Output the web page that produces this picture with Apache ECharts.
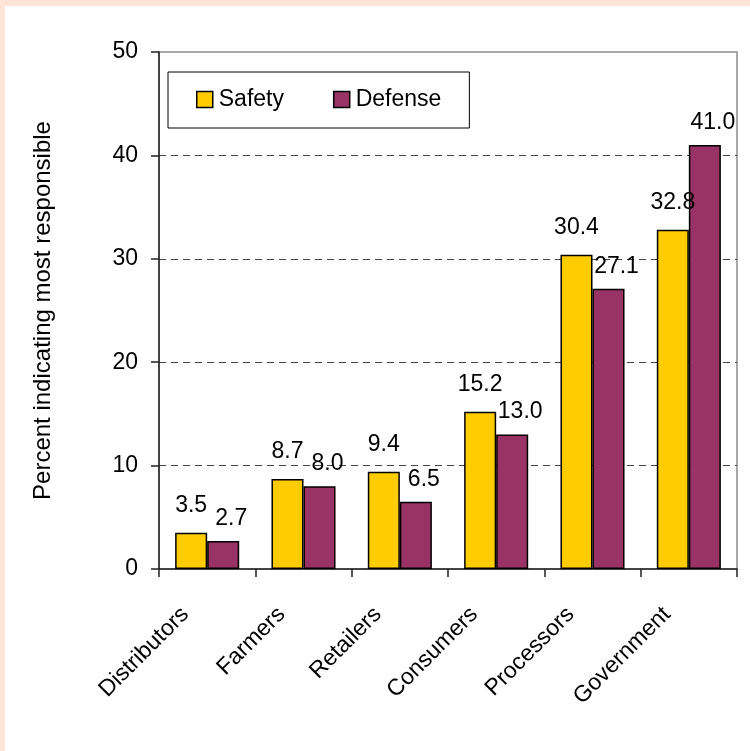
<!DOCTYPE html>
<html>
<head>
<meta charset="utf-8">
<script src="https://cdn.jsdelivr.net/npm/echarts@6/dist/echarts.min.js"></script>
<style>
  html, body { margin: 0; padding: 0; background: #ffffff; }
  #frame { position: absolute; left: 0; top: 0; width: 750px; height: 751px; background: #FFE5D8; }
  #chart { position: absolute; left: 5px; top: 6px; width: 745px; height: 745px; background: #ffffff; }
</style>
</head>
<body>
<div id="frame"></div>
<div id="chart"></div>
<script>
const categories = ["Distributors", "Farmers", "Retailers", "Consumers", "Processors", "Government"];
const safetyValues = [3.5, 8.7, 9.4, 15.2, 30.4, 32.8];
const defenseValues = [2.7, 8.0, 6.5, 13.0, 27.1, 41.0];
const seriesNames = ["Safety", "Defense"];
const yTicks = { min: 0, max: 50, interval: 10 };
const yAxisTitle = "Percent indicating most responsible";

const FONT = "'Liberation Sans', Arial, sans-serif";
const chart = echarts.init(document.getElementById('chart'), null, { renderer: 'canvas' });

const option = {
  backgroundColor: '#ffffff',
  animation: false,
  textStyle: { fontFamily: FONT, color: '#000' },
  grid: {
    left: 154, right: 13, top: 46, bottom: 182,
    show: true, borderColor: '#8c8c8c', borderWidth: 1.5, backgroundColor: 'transparent'
  },
  legend: {
    data: seriesNames,
    left: 163, top: 66,
    orient: 'horizontal',
    padding: [16, 28, 17, 28],
    itemGap: 49,
    itemWidth: 16, itemHeight: 16,
    icon: 'rect',
    backgroundColor: '#ffffff',
    borderColor: '#000000', borderWidth: 1,
    itemStyle: { borderColor: '#000', borderWidth: 1.5 },
    textStyle: { fontFamily: FONT, fontSize: 23, color: '#000', padding: [0, 0, 0, 1] }
  },
  xAxis: {
    type: 'category',
    data: categories,
    boundaryGap: true,
    axisLine: { show: true, lineStyle: { color: '#222', width: 1.5 } },
    axisTick: { show: true, length: 8, lineStyle: { color: '#222', width: 1.5 } },
    axisLabel: {
      rotate: 45, interval: 0, margin: 20,
      fontFamily: FONT, fontSize: 23, color: '#000',
      padding: [0, 31, 0, 0]
    },
    splitLine: { show: false }
  },
  yAxis: {
    type: 'value',
    min: yTicks.min, max: yTicks.max, interval: yTicks.interval,
    name: yAxisTitle,
    nameLocation: 'middle',
    nameGap: 104,
    nameTextStyle: { fontFamily: FONT, fontSize: 24, color: '#000' },
    axisLine: { show: true, lineStyle: { color: '#222', width: 1.5 } },
    axisTick: { show: true, length: 8, lineStyle: { color: '#222', width: 1.5 } },
    axisLabel: { margin: 21, fontFamily: FONT, fontSize: 23, color: '#000' },
    splitLine: {
      show: true, showMinLine: false, showMaxLine: false,
      lineStyle: { color: '#444', type: [7, 5], width: 1 }
    }
  },
  series: [
    {
      name: seriesNames[0],
      type: 'bar',
      data: safetyValues,
      barGap: '0%',
      barCategoryGap: '33.5%',
      itemStyle: { color: '#FFCC00', borderColor: '#000', borderWidth: 1.5 },
      label: {
        show: true, position: 'top', distance: 16,
        formatter: p => p.value.toFixed(1),
        fontFamily: FONT, fontSize: 23, color: '#000'
      }
    },
    {
      name: seriesNames[1],
      type: 'bar',
      data: defenseValues,
      barGap: '0%',
      barCategoryGap: '33.5%',
      itemStyle: { color: '#993366', borderColor: '#000', borderWidth: 1.5 },
      label: {
        show: true, position: 'top', distance: 11, offset: [8, 0],
        formatter: p => p.value.toFixed(1),
        fontFamily: FONT, fontSize: 23, color: '#000'
      }
    }
  ]
};
chart.setOption(option);
</script>
</body>
</html>
